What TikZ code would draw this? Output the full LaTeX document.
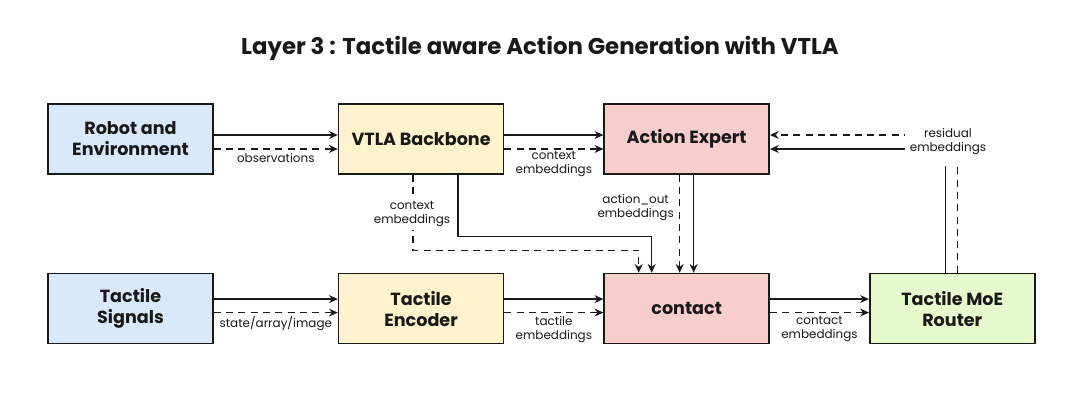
\documentclass[tikz,border=0pt]{standalone}
\usepackage{fontspec}
\setmainfont{Poppins}
\usepackage{tikz}
\usetikzlibrary{arrows.meta, positioning, calc}
\usepackage{xcolor}
\definecolor{boxblue}{RGB}{218,232,252}
\definecolor{boxyellow}{RGB}{255,242,204}
\definecolor{boxred}{RGB}{248,206,204}
\definecolor{boxgreen}{RGB}{230,250,206}
\definecolor{ink}{RGB}{25,25,25}

\begin{document}
\begin{tikzpicture}[
  blk/.style={draw=ink, line width=0.9pt, minimum width=3.3cm, minimum height=1.4cm,
    align=center, text=ink, font=\fontsize{10}{12}\selectfont\bfseries},
  lbl/.style={font=\fontsize{6.8}{8}\selectfont, align=center, text=ink, inner sep=1pt},
  flow/.style={draw=ink, line width=0.7pt, -{Stealth[length=5pt,width=4.5pt]}},
  dflow/.style={flow, dash pattern=on 4pt off 3pt}]
  \useasboundingbox (0,0) rectangle (21.6,7.94);
  \node[text=ink, font=\fontsize{13}{15}\selectfont\bfseries] (title) at (10.8,6.98)
    {Layer 3 : Tactile aware Action Generation with VTLA};
  % Top row
  \node[blk, fill=boxblue] (rob) at (2.61,5.16) {Robot and\\Environment};
  \node[blk, fill=boxyellow, right=2.48cm of rob] (vtla) {VTLA Backbone};
  \node[blk, fill=boxred, right=1.98cm of vtla] (ae) {Action Expert};
  % Bottom row
  \node[blk, fill=boxblue, below=1.96cm of rob] (sig) {Tactile\\Signals};
  \node[blk, fill=boxyellow, below=1.96cm of vtla] (enc) {Tactile\\Encoder};
  \node[blk, fill=boxred, below=1.96cm of ae] (con) {contact};
  \node[blk, fill=boxgreen, right=1.98cm of con] (moe) {Tactile MoE\\Router};
  % Horizontal flows, top
  \draw[flow] ([yshift=0.08cm]rob.east) -- ([yshift=0.08cm]vtla.west);
  \draw[dflow] ([yshift=-0.2cm]rob.east) -- node[lbl, below=1pt] {observations} ([yshift=-0.2cm]vtla.west);
  \draw[flow] ([yshift=0.08cm]vtla.east) -- ([yshift=0.08cm]ae.west);
  \draw[dflow] ([yshift=-0.2cm]vtla.east) -- node[lbl, below=0pt] {context\\embeddings} ([yshift=-0.2cm]ae.west);
  % Horizontal flows, bottom
  \draw[flow] ([yshift=0.19cm]sig.east) -- ([yshift=0.19cm]enc.west);
  \draw[dflow] ([yshift=-0.08cm]sig.east) -- node[lbl, below=1pt] {state/array/image} ([yshift=-0.08cm]enc.west);
  \draw[flow] ([yshift=0.19cm]enc.east) -- ([yshift=0.19cm]con.west);
  \draw[dflow] ([yshift=-0.08cm]enc.east) -- node[lbl, below=1pt] {tactile\\embeddings} ([yshift=-0.08cm]con.west);
  \draw[flow] ([yshift=0.19cm]con.east) -- ([yshift=0.19cm]moe.west);
  \draw[dflow] ([yshift=-0.08cm]con.east) -- node[lbl, below=1pt] {contact\\embeddings} ([yshift=-0.08cm]moe.west);
  % Backbone down to contact
  \draw[dflow] ([xshift=-0.16cm]vtla.south) |- ([xshift=-0.96cm,yshift=0.45cm]con.north) -- ([xshift=-0.96cm]con.north);
  \draw[flow] ([xshift=0.74cm]vtla.south) |- ([xshift=-0.70cm,yshift=0.73cm]con.north) -- ([xshift=-0.70cm]con.north);
  \node[lbl, fill=white, inner ysep=2pt] (ctx) at (8.24,3.66) {context\\embeddings};
  % Expert down to contact
  \draw[dflow] ([xshift=-0.14cm]ae.south) -- node[lbl, left=2pt, pos=0.33] {action\_out\\embeddings} ([xshift=-0.14cm]con.north);
  \draw[flow] ([xshift=0.14cm]ae.south) -- ([xshift=0.14cm]con.north);
  % Residual back to expert
  \draw[flow] ([xshift=-0.13cm]moe.north) |- ([yshift=-0.2cm]ae.east);
  \draw[dflow] ([xshift=0.11cm]moe.north) |- ([yshift=0.08cm]ae.east);
  \node[lbl, fill=white, inner xsep=3pt, inner ysep=6pt] (res) at (18.96,5.1) {residual\\embeddings};
\end{tikzpicture}
\end{document}
